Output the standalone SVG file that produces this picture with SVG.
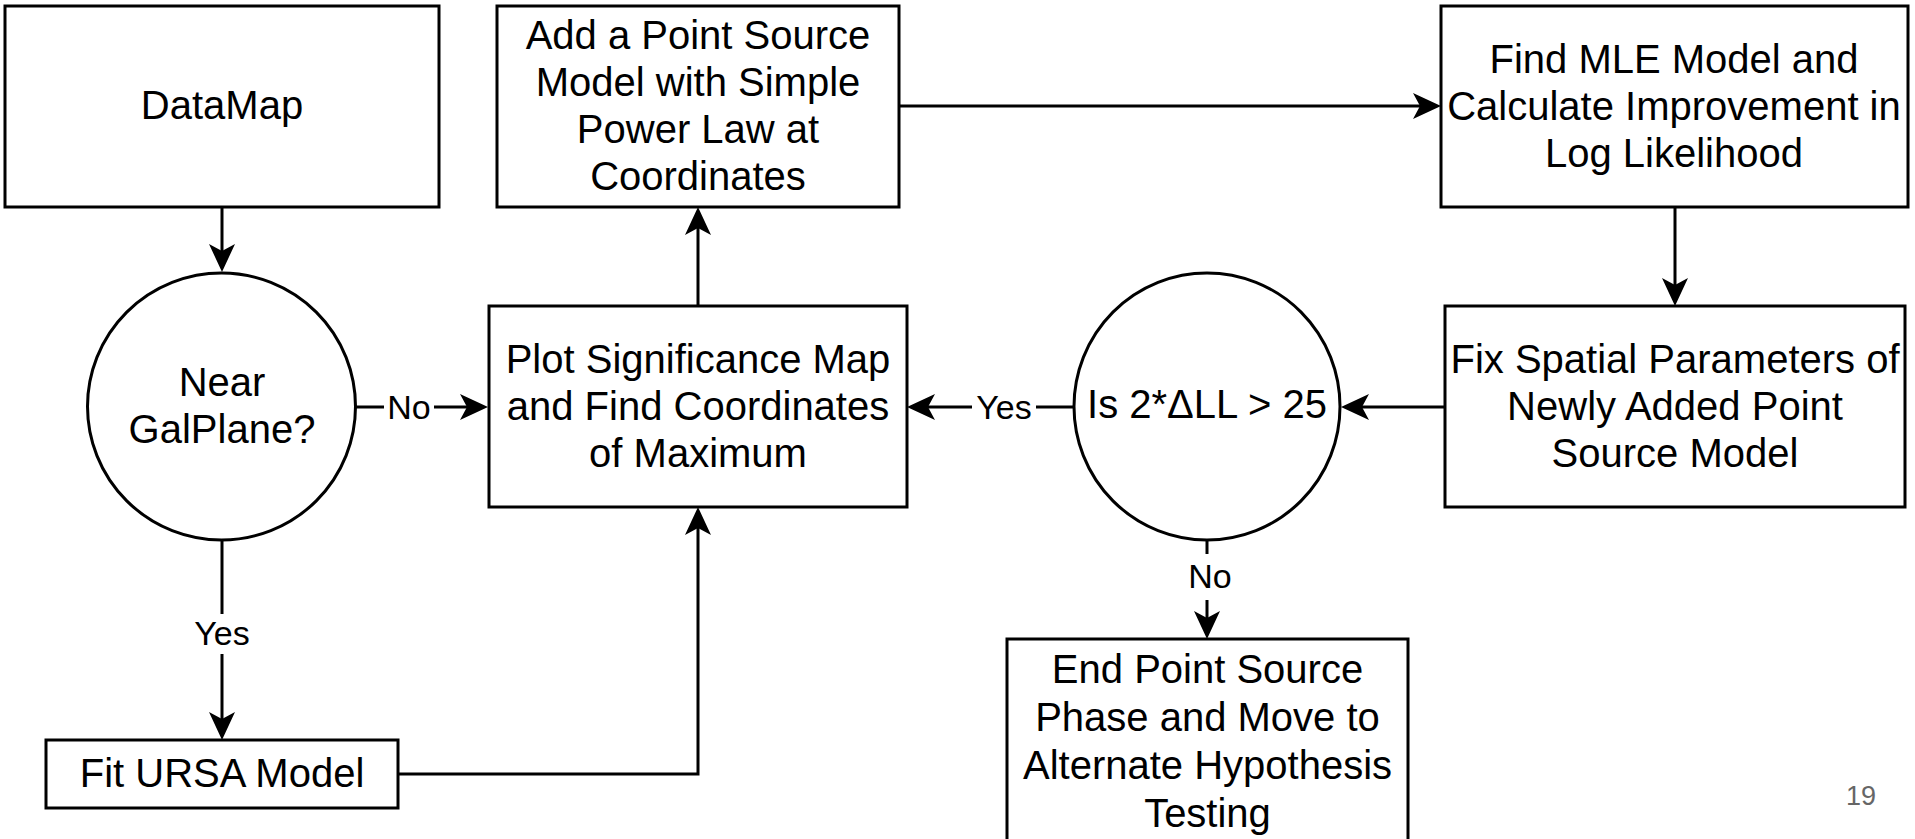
<svg xmlns="http://www.w3.org/2000/svg" width="1915" height="839" viewBox="0 0 1915 839">
  <defs>
    <marker id="arr" markerUnits="userSpaceOnUse" markerWidth="30" markerHeight="28" refX="7" refY="13" orient="auto" overflow="visible">
      <path d="M0,0 L28,13 L0,26 L7,13 Z" fill="#000"/>
    </marker>
    <style>
      .box { fill: #fff; stroke: #000; stroke-width: 3; }
      .t { font-family: "Liberation Sans", Arial, Helvetica, sans-serif; font-size: 40px; text-anchor: middle; fill: #000; }
      .lbl { font-family: "Liberation Sans", Arial, Helvetica, sans-serif; font-size: 34px; text-anchor: middle; fill: #000; }
      .bg { fill: #fff; stroke: none; }
      .c { fill: none; stroke: #000; stroke-width: 3; }
      .pg { font-family: "Liberation Sans", Arial, Helvetica, sans-serif; font-size: 27px; text-anchor: middle; fill: #666; }
    </style>
  </defs>
  <rect width="1915" height="839" fill="#fff"/>

  <g id="connectors">
    <path class="c" d="M222,207 V251" marker-end="url(#arr)"/>
    <path class="c" d="M356,407 H467" marker-end="url(#arr)"/>
    <path class="c" d="M222,540 V719" marker-end="url(#arr)"/>
    <path class="c" d="M398,774 H698 V528" marker-end="url(#arr)"/>
    <path class="c" d="M698,306 V228" marker-end="url(#arr)"/>
    <path class="c" d="M899,106 H1420" marker-end="url(#arr)"/>
    <path class="c" d="M1675,207 V285" marker-end="url(#arr)"/>
    <path class="c" d="M1445,407 H1362" marker-end="url(#arr)"/>
    <path class="c" d="M1074,407 H928" marker-end="url(#arr)"/>
    <path class="c" d="M1207,540 V618" marker-end="url(#arr)"/>
    <g id="labels">
      <rect class="bg" x="384" y="390" width="50" height="34"/>
      <text class="lbl" x="409" y="407" dy="0.34em">No</text>
      <rect class="bg" x="190" y="614" width="64" height="40"/>
      <text class="lbl" x="222" y="633" dy="0.34em">Yes</text>
      <rect class="bg" x="972" y="390" width="64" height="34"/>
      <text class="lbl" x="1004" y="407" dy="0.34em">Yes</text>
      <rect class="bg" x="1185" y="554" width="50" height="46"/>
      <text class="lbl" x="1210" y="576" dy="0.34em">No</text>
    </g>
  </g>

  <g id="datamap">
    <rect class="box" x="5" y="6" width="434" height="201"/>
    <text class="t" x="222" y="106" dy="0.33em">DataMap</text>
  </g>
  <g id="add-point-source">
    <rect class="box" x="497" y="6" width="402" height="201"/>
    <text class="t" x="698" y="36" dy="0.33em">Add a Point Source</text>
    <text class="t" x="698" y="83" dy="0.33em">Model with Simple</text>
    <text class="t" x="698" y="130" dy="0.33em">Power Law at</text>
    <text class="t" x="698" y="177" dy="0.33em">Coordinates</text>
  </g>
  <g id="find-mle">
    <rect class="box" x="1441" y="6" width="467" height="201"/>
    <text class="t" x="1674" y="60" dy="0.33em">Find MLE Model and</text>
    <text class="t" x="1674" y="107" dy="0.33em">Calculate Improvement in</text>
    <text class="t" x="1674" y="154" dy="0.33em">Log Likelihood</text>
  </g>
  <g id="fix-spatial">
    <rect class="box" x="1445" y="306" width="460" height="201"/>
    <text class="t" x="1675" y="360" dy="0.33em">Fix Spatial Parameters of</text>
    <text class="t" x="1675" y="407" dy="0.33em">Newly Added Point</text>
    <text class="t" x="1675" y="454" dy="0.33em">Source Model</text>
  </g>
  <g id="near-galplane">
    <ellipse class="box" cx="221.5" cy="406.5" rx="134" ry="133.5"/>
    <text class="t" x="222" y="383" dy="0.33em">Near</text>
    <text class="t" x="222" y="430" dy="0.33em">GalPlane?</text>
  </g>
  <g id="plot-significance">
    <rect class="box" x="489" y="306" width="418" height="201"/>
    <text class="t" x="698" y="360" dy="0.33em">Plot Significance Map</text>
    <text class="t" x="698" y="407" dy="0.33em">and Find Coordinates</text>
    <text class="t" x="698" y="454" dy="0.33em">of Maximum</text>
  </g>
  <g id="is-delta-ll">
    <ellipse class="box" cx="1207" cy="406.5" rx="133" ry="133.5"/>
    <text class="t" x="1207" y="405" dy="0.33em">Is 2*ΔLL &gt; 25</text>
  </g>
  <g id="fit-ursa">
    <rect class="box" x="46" y="740" width="352" height="68"/>
    <text class="t" x="222" y="774" dy="0.33em">Fit URSA Model</text>
  </g>
  <g id="end-point-source">
    <rect class="box" x="1007" y="639" width="401" height="215"/>
    <text class="t" x="1207.5" y="670" dy="0.33em">End Point Source</text>
    <text class="t" x="1207.5" y="718" dy="0.33em">Phase and Move to</text>
    <text class="t" x="1207.5" y="766" dy="0.33em">Alternate Hypothesis</text>
    <text class="t" x="1207.5" y="814" dy="0.33em">Testing</text>
  </g>
  <text class="pg" x="1861" y="805">19</text>
</svg>
